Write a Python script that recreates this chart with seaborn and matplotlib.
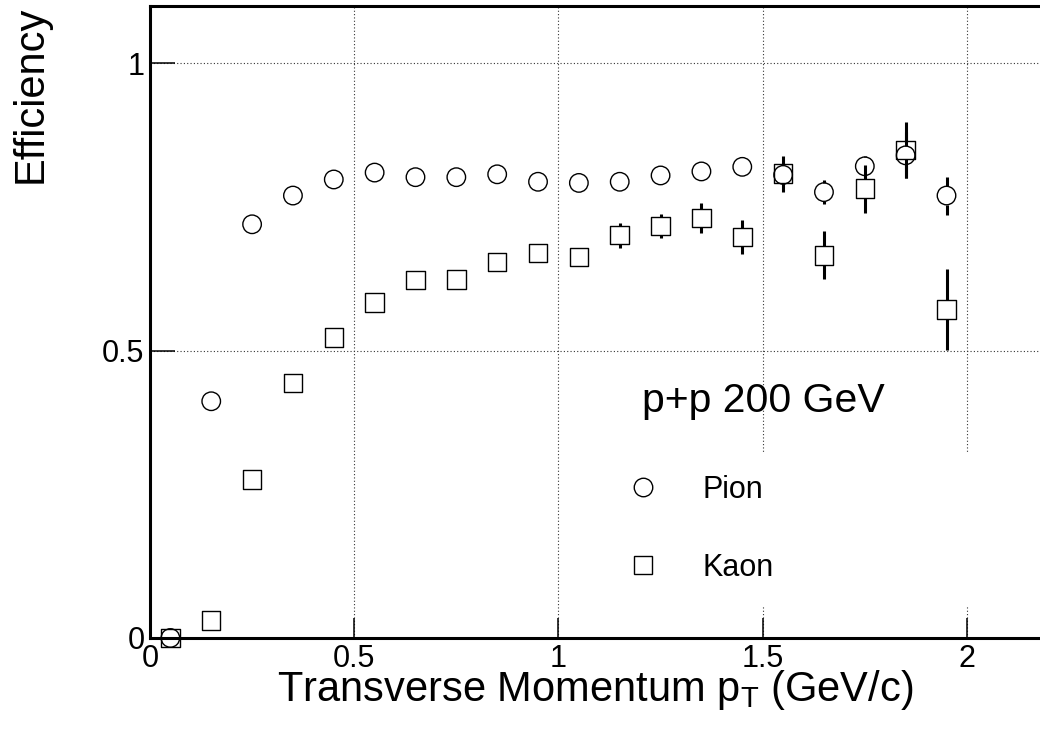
import numpy as np
import pandas as pd
import matplotlib
matplotlib.use("Agg")
import matplotlib.pyplot as plt
import seaborn as sns
from matplotlib.lines import Line2D

# Bin centres in transverse momentum (GeV/c)
pt_bins = [0.05, 0.15, 0.25, 0.35, 0.45, 0.55, 0.65, 0.75, 0.85, 0.95,
           1.05, 1.15, 1.25, 1.35, 1.45, 1.55, 1.65, 1.75, 1.85, 1.95]

pion_eff = [0.000, 0.412, 0.720, 0.770, 0.798, 0.810, 0.802, 0.802, 0.807, 0.794,
            0.792, 0.794, 0.805, 0.812, 0.820, 0.806, 0.776, 0.821, 0.840, 0.770]
pion_err = [0.000, 0.005, 0.004, 0.003, 0.003, 0.003, 0.004, 0.004, 0.005, 0.005,
            0.006, 0.007, 0.008, 0.009, 0.011, 0.015, 0.021, 0.018, 0.040, 0.033]

kaon_eff = [0.000, 0.030, 0.276, 0.444, 0.523, 0.584, 0.623, 0.624, 0.654, 0.670,
            0.663, 0.701, 0.717, 0.731, 0.698, 0.808, 0.666, 0.782, 0.849, 0.572]
kaon_err = [0.000, 0.004, 0.006, 0.007, 0.008, 0.009, 0.010, 0.011, 0.012, 0.013,
            0.015, 0.022, 0.021, 0.026, 0.029, 0.031, 0.042, 0.042, 0.049, 0.070]

species = ["Pion", "Kaon"]
species_markers = {"Pion": "o", "Kaon": "s"}

x_ticks = [0, 0.5, 1, 1.5, 2]
x_tick_labels = ["0", "0.5", "1", "1.5", "2"]
y_ticks = [0, 0.5, 1]
y_tick_labels = ["0", "0.5", "1"]

sns.set_theme(style="white")
plt.rcParams["font.family"] = ["Liberation Sans", "DejaVu Sans"]
plt.rcParams["text.color"] = "black"
plt.rcParams["axes.labelcolor"] = "black"
plt.rcParams["mathtext.fontset"] = "custom"
plt.rcParams["mathtext.rm"] = "Liberation Sans"
plt.rcParams["mathtext.it"] = "Liberation Sans:italic"
plt.rcParams["mathtext.default"] = "regular"

df = pd.DataFrame({
    "pt": pt_bins * 2,
    "eff": pion_eff + kaon_eff,
    "err": pion_err + kaon_err,
    "species": ["Pion"] * len(pt_bins) + ["Kaon"] * len(pt_bins),
})

fig = plt.figure(figsize=(10.4, 7.44), dpi=100)
ax = fig.add_axes([0.1442, 0.1425, 0.8641, 0.8495])
ax.set_xlim(0, 2.2)
ax.set_ylim(0, 1.1)

# Error bars, leaving a gap where each series' own marker sits
marker_px = 18.5
fig.canvas.draw()
px_per_unit = ax.transData.transform((0, 1))[1] - ax.transData.transform((0, 0))[1]
gap = (marker_px / 2) / px_per_unit * (fig.dpi / 100.0)
for name in species:
    sub = df[df["species"] == name]
    s = sub[sub["err"] > gap]
    ax.vlines(s["pt"], s["eff"] + gap, s["eff"] + s["err"], color="black",
              lw=2.2, zorder=3)
    ax.vlines(s["pt"], s["eff"] - s["err"], s["eff"] - gap, color="black",
              lw=2.2, zorder=3)

sns.scatterplot(data=df, x="pt", y="eff", style="species", markers=species_markers,
                s=(marker_px * 0.72) ** 2, facecolors="none", edgecolor="black",
                linewidth=1.0, legend=False, ax=ax, clip_on=False, zorder=4)

# Frame, ticks and grid in the usual detector-plot style
for side in ["top", "left", "bottom", "right"]:
    ax.spines[side].set_visible(True)
    ax.spines[side].set_linewidth(2.2)
    ax.spines[side].set_color("black")

ax.set_xticks(x_ticks)
ax.set_xticklabels(x_tick_labels)
ax.set_yticks(y_ticks)
ax.set_yticklabels(y_tick_labels)
ax.tick_params(axis="x", direction="in", length=14.5, width=1.1, pad=4,
               labelsize=22, colors="black", bottom=True, top=False)
ax.tick_params(axis="y", direction="in", length=18, width=1.1, pad=4,
               labelsize=22, colors="black", left=True, right=False)
ax.grid(True, color="#333333", linestyle=(0, (1, 2)), linewidth=0.8)
ax.set_axisbelow(True)

ax.set_xlabel(r"Transverse Momentum p$_{T}$ (GeV/c)", fontsize=30, color="black")
ax.xaxis.set_label_coords(0.495, -0.047)
ax.set_ylabel("Efficiency", fontsize=30, color="black", loc="top")
ax.yaxis.set_label_coords(-0.110, 1.0)

ax.text(1.204, 0.393, "p+p 200 GeV", fontsize=29.5, color="black", va="baseline")

handles = [Line2D([], [], linestyle="none", marker=species_markers[n],
                  markersize=marker_px * 0.72, markerfacecolor="none",
                  markeredgecolor="black", markeredgewidth=1.0) for n in species]
leg = ax.legend(handles, species, loc="center left",
                bbox_to_anchor=(0.506, 0.0, 0.494, 0.346),
                mode="expand", frameon=True, facecolor="white", edgecolor="none",
                fancybox=False, framealpha=1.0, borderpad=0.75, handlelength=1.0,
                handletextpad=1.46, labelspacing=1.58, fontsize=22, borderaxespad=0)
for t in leg.get_texts():
    t.set_color("black")

fig.savefig("out.png", dpi=100)
